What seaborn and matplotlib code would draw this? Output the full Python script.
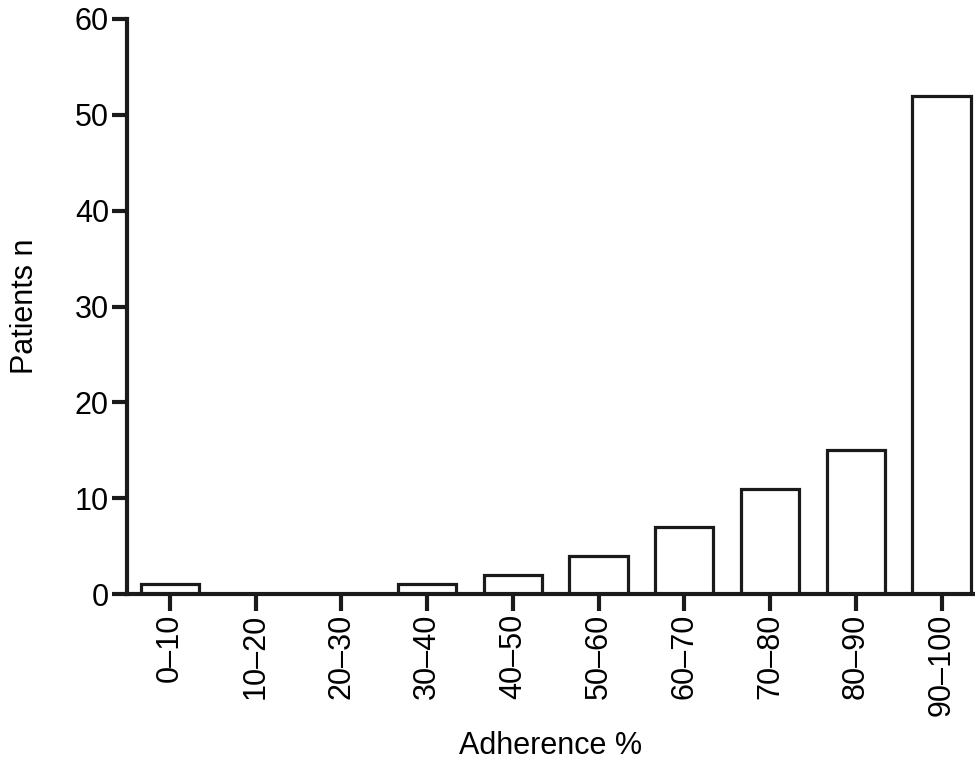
import matplotlib
matplotlib.use("Agg")
import matplotlib.pyplot as plt
import seaborn as sns
import pandas as pd

bins = ["0–10", "10–20", "20–30", "30–40", "40–50",
        "50–60", "60–70", "70–80", "80–90", "90–100"]
patients = [1, 0, 0, 1, 2, 4, 7, 11, 15, 52]

df = pd.DataFrame({"bin": bins, "patients": patients})

sns.set_style("ticks")
plt.rcParams["font.family"] = ["Liberation Sans", "DejaVu Sans"]
plt.rcParams["text.color"] = "black"
plt.rcParams["axes.labelcolor"] = "black"
plt.rcParams["xtick.labelcolor"] = "black"
plt.rcParams["ytick.labelcolor"] = "black"

fig = plt.figure(figsize=(9.75, 7.6), dpi=100)
ax = fig.add_axes([0.1303, 0.2184, 0.8697, 0.7566])

sns.barplot(data=df, x="bin", y="patients", color="white", edgecolor="#1a1a1a",
            linewidth=2.3, width=0.68, ax=ax)

ax.set_xlim(-0.5, 9.39)
ax.set_ylim(0, 60)
ax.set_yticks(range(0, 61, 10))
ax.set_xlabel("Adherence %", fontsize=22, labelpad=11)
ax.set_ylabel("Patients n", fontsize=22, labelpad=25)
ax.tick_params(axis="y", labelsize=22, width=3, length=11, color="#1a1a1a", pad=2)
ax.tick_params(axis="x", labelsize=22, width=3, length=12, color="#1a1a1a",
               labelrotation=90, pad=2)

for side in ["top", "right"]:
    ax.spines[side].set_visible(False)
for side in ["left", "bottom"]:
    ax.spines[side].set_linewidth(3)
    ax.spines[side].set_color("#1a1a1a")

fig.savefig("out.png", dpi=100)
